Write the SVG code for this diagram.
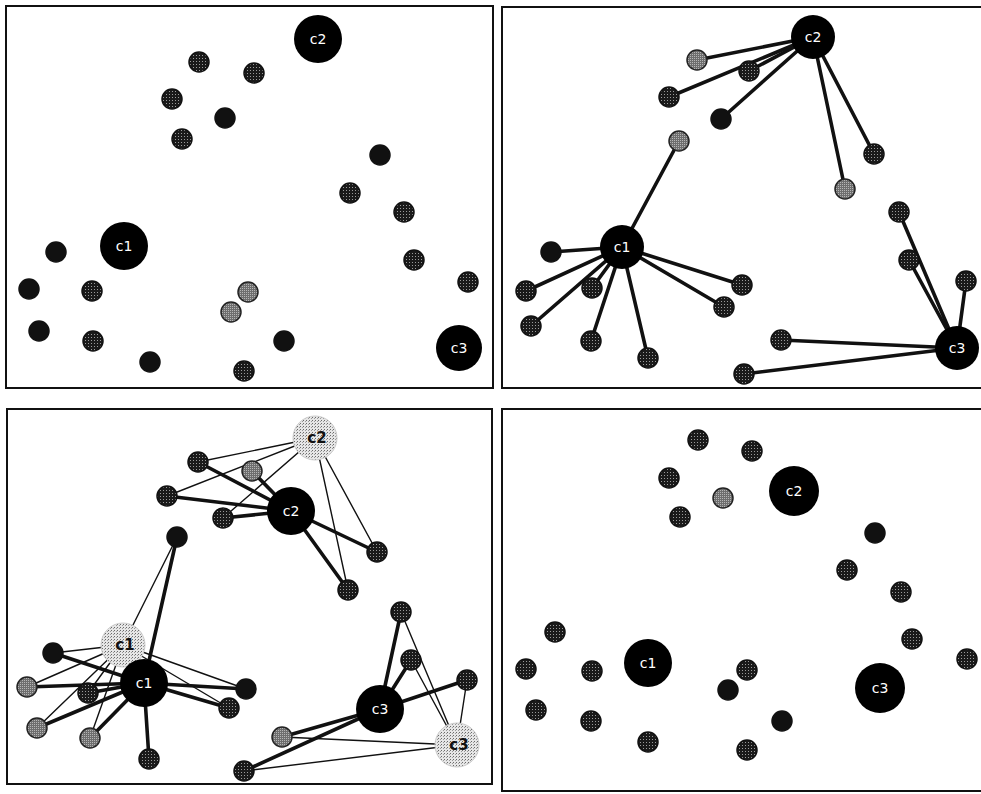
<svg xmlns="http://www.w3.org/2000/svg" width="981" height="794" viewBox="0 0 981 794">
<defs>
<pattern id="dots" width="3" height="3" patternUnits="userSpaceOnUse">
<rect width="3" height="3" fill="#1a1a1a"/>
<rect x="1" y="1" width="1" height="1" fill="#9a9a9a"/>
</pattern>
<pattern id="grey" width="2" height="2" patternUnits="userSpaceOnUse">
<rect width="2" height="2" fill="#6e6e6e"/>
<rect width="1" height="1" fill="#b5b5b5"/>
</pattern>
<pattern id="hatch" width="3" height="3" patternUnits="userSpaceOnUse">
<rect width="3" height="3" fill="#e6e6e6"/>
<rect x="0" y="0" width="1" height="1" fill="#6a6a6a"/>
<rect x="2" y="1" width="1" height="1" fill="#9a9a9a"/>
</pattern>
</defs>
<style>
.frame{fill:#fff;stroke:#111;stroke-width:2}
.d{fill:url(#dots);stroke:#111;stroke-width:1.5}
.g{fill:url(#grey);stroke:#222;stroke-width:1.5}
.b{fill:#111;stroke:#111;stroke-width:1.5}
.cen{fill:#000}
.old{fill:url(#hatch);stroke:#ccc;stroke-width:1}
.lbl{font-family:"DejaVu Sans","Liberation Sans",sans-serif;font-size:14px;fill:#fff;text-anchor:middle;dominant-baseline:central}
.olbl{font-family:"DejaVu Sans","Liberation Sans",sans-serif;font-size:15px;font-weight:bold;fill:#111;text-anchor:middle;dominant-baseline:central}
.thick{stroke:#111;stroke-width:3.6;fill:none;stroke-linecap:round}
.thin{stroke:#111;stroke-width:1.4;fill:none;stroke-linecap:round}
</style>
<rect width="981" height="794" fill="#fff"/>
<g id="frames">
<rect class="frame" x="6" y="6" width="487" height="382"/>
<rect class="frame" x="502" y="7" width="490" height="381"/>
<rect class="frame" x="7" y="409" width="485" height="375"/>
<rect class="frame" x="502" y="409" width="490" height="382"/>
</g>
<g id="connectors">
<g class="thick">
<line x1="813" y1="37" x2="697" y2="60"/>
<line x1="813" y1="37" x2="749" y2="71"/>
<line x1="813" y1="37" x2="669" y2="97"/>
<line x1="813" y1="37" x2="721" y2="119"/>
<line x1="813" y1="37" x2="874" y2="154"/>
<line x1="813" y1="37" x2="845" y2="189"/>
<line x1="622" y1="247" x2="679" y2="141"/>
<line x1="622" y1="247" x2="551" y2="252"/>
<line x1="622" y1="247" x2="526" y2="291"/>
<line x1="622" y1="247" x2="592" y2="288"/>
<line x1="622" y1="247" x2="531" y2="326"/>
<line x1="622" y1="247" x2="591" y2="341"/>
<line x1="622" y1="247" x2="648" y2="358"/>
<line x1="622" y1="247" x2="742" y2="285"/>
<line x1="622" y1="247" x2="724" y2="307"/>
<line x1="957" y1="348" x2="899" y2="212"/>
<line x1="957" y1="348" x2="909" y2="260"/>
<line x1="957" y1="348" x2="966" y2="281"/>
<line x1="957" y1="348" x2="781" y2="340"/>
<line x1="957" y1="348" x2="744" y2="374"/>
</g>
<g class="thin">
<line x1="315" y1="438" x2="198" y2="462"/>
<line x1="315" y1="438" x2="167" y2="496"/>
<line x1="315" y1="438" x2="223" y2="518"/>
<line x1="315" y1="438" x2="377" y2="552"/>
<line x1="315" y1="438" x2="348" y2="590"/>
<line x1="123" y1="645" x2="177" y2="537"/>
<line x1="123" y1="645" x2="53" y2="653"/>
<line x1="123" y1="645" x2="27" y2="687"/>
<line x1="123" y1="645" x2="88" y2="693"/>
<line x1="123" y1="645" x2="246" y2="689"/>
<line x1="123" y1="645" x2="229" y2="708"/>
<line x1="123" y1="645" x2="37" y2="728"/>
<line x1="123" y1="645" x2="90" y2="738"/>
<line x1="457" y1="745" x2="401" y2="612"/>
<line x1="457" y1="745" x2="411" y2="660"/>
<line x1="457" y1="745" x2="467" y2="680"/>
<line x1="457" y1="745" x2="282" y2="737"/>
<line x1="457" y1="745" x2="244" y2="771"/>
</g>
<g class="thick">
<line x1="291" y1="511" x2="198" y2="462"/>
<line x1="291" y1="511" x2="252" y2="471"/>
<line x1="291" y1="511" x2="167" y2="496"/>
<line x1="291" y1="511" x2="223" y2="518"/>
<line x1="291" y1="511" x2="377" y2="552"/>
<line x1="291" y1="511" x2="348" y2="590"/>
<line x1="144" y1="683" x2="177" y2="537"/>
<line x1="144" y1="683" x2="53" y2="653"/>
<line x1="144" y1="683" x2="27" y2="687"/>
<line x1="144" y1="683" x2="88" y2="693"/>
<line x1="144" y1="683" x2="246" y2="689"/>
<line x1="144" y1="683" x2="229" y2="708"/>
<line x1="144" y1="683" x2="37" y2="728"/>
<line x1="144" y1="683" x2="90" y2="738"/>
<line x1="144" y1="683" x2="149" y2="759"/>
<line x1="380" y1="709" x2="401" y2="612"/>
<line x1="380" y1="709" x2="411" y2="660"/>
<line x1="380" y1="709" x2="467" y2="680"/>
<line x1="380" y1="709" x2="282" y2="737"/>
<line x1="380" y1="709" x2="244" y2="771"/>
</g>
</g>
<g id="p1-c1"><circle class="cen" cx="124" cy="246" r="24"/><text class="lbl" x="124" y="246">c1</text></g>
<g id="p1-c2"><circle class="cen" cx="318" cy="39" r="24"/><text class="lbl" x="318" y="39">c2</text></g>
<g id="p1-c3"><circle class="cen" cx="459" cy="348" r="23"/><text class="lbl" x="459" y="348">c3</text></g>
<g id="p1-n1"><circle class="d" cx="199" cy="62" r="10"/></g>
<g id="p1-n2"><circle class="d" cx="254" cy="73" r="10"/></g>
<g id="p1-n3"><circle class="d" cx="172" cy="99" r="10"/></g>
<g id="p1-n4"><circle class="b" cx="225" cy="118" r="10"/></g>
<g id="p1-n5"><circle class="d" cx="182" cy="139" r="10"/></g>
<g id="p1-n6"><circle class="b" cx="380" cy="155" r="10"/></g>
<g id="p1-n7"><circle class="d" cx="350" cy="193" r="10"/></g>
<g id="p1-n8"><circle class="d" cx="404" cy="212" r="10"/></g>
<g id="p1-n9"><circle class="d" cx="414" cy="260" r="10"/></g>
<g id="p1-n10"><circle class="d" cx="468" cy="282" r="10"/></g>
<g id="p1-n11"><circle class="b" cx="56" cy="252" r="10"/></g>
<g id="p1-n12"><circle class="b" cx="29" cy="289" r="10"/></g>
<g id="p1-n13"><circle class="d" cx="92" cy="291" r="10"/></g>
<g id="p1-n14"><circle class="g" cx="248" cy="292" r="10"/></g>
<g id="p1-n15"><circle class="g" cx="231" cy="312" r="10"/></g>
<g id="p1-n16"><circle class="b" cx="39" cy="331" r="10"/></g>
<g id="p1-n17"><circle class="d" cx="93" cy="341" r="10"/></g>
<g id="p1-n18"><circle class="b" cx="284" cy="341" r="10"/></g>
<g id="p1-n19"><circle class="b" cx="150" cy="362" r="10"/></g>
<g id="p1-n20"><circle class="d" cx="244" cy="371" r="10"/></g>
<g id="p2-c1"><circle class="cen" cx="622" cy="247" r="22"/><text class="lbl" x="622" y="247">c1</text></g>
<g id="p2-c2"><circle class="cen" cx="813" cy="37" r="22"/><text class="lbl" x="813" y="37">c2</text></g>
<g id="p2-c3"><circle class="cen" cx="957" cy="348" r="22"/><text class="lbl" x="957" y="348">c3</text></g>
<g id="p2-n1"><circle class="g" cx="697" cy="60" r="10"/></g>
<g id="p2-n2"><circle class="d" cx="749" cy="71" r="10"/></g>
<g id="p2-n3"><circle class="d" cx="669" cy="97" r="10"/></g>
<g id="p2-n4"><circle class="b" cx="721" cy="119" r="10"/></g>
<g id="p2-n5"><circle class="g" cx="679" cy="141" r="10"/></g>
<g id="p2-n6"><circle class="d" cx="874" cy="154" r="10"/></g>
<g id="p2-n7"><circle class="g" cx="845" cy="189" r="10"/></g>
<g id="p2-n8"><circle class="d" cx="899" cy="212" r="10"/></g>
<g id="p2-n9"><circle class="d" cx="909" cy="260" r="10"/></g>
<g id="p2-n10"><circle class="d" cx="966" cy="281" r="10"/></g>
<g id="p2-n11"><circle class="b" cx="551" cy="252" r="10"/></g>
<g id="p2-n12"><circle class="d" cx="526" cy="291" r="10"/></g>
<g id="p2-n13"><circle class="d" cx="592" cy="288" r="10"/></g>
<g id="p2-n14"><circle class="d" cx="742" cy="285" r="10"/></g>
<g id="p2-n15"><circle class="d" cx="724" cy="307" r="10"/></g>
<g id="p2-n16"><circle class="d" cx="531" cy="326" r="10"/></g>
<g id="p2-n17"><circle class="d" cx="591" cy="341" r="10"/></g>
<g id="p2-n18"><circle class="d" cx="648" cy="358" r="10"/></g>
<g id="p2-n19"><circle class="d" cx="781" cy="340" r="10"/></g>
<g id="p2-n20"><circle class="d" cx="744" cy="374" r="10"/></g>
<g id="p3-c1-old"><circle class="old" cx="123" cy="645" r="22"/><text class="olbl" x="125" y="645">c1</text></g>
<g id="p3-c2-old"><circle class="old" cx="315" cy="438" r="22"/><text class="olbl" x="317" y="438">c2</text></g>
<g id="p3-c3-old"><circle class="old" cx="457" cy="745" r="22"/><text class="olbl" x="459" y="745">c3</text></g>
<g id="p3-c1"><circle class="cen" cx="144" cy="683" r="24"/><text class="lbl" x="144" y="683">c1</text></g>
<g id="p3-c2"><circle class="cen" cx="291" cy="511" r="24"/><text class="lbl" x="291" y="511">c2</text></g>
<g id="p3-c3"><circle class="cen" cx="380" cy="709" r="24"/><text class="lbl" x="380" y="709">c3</text></g>
<g id="p3-n1"><circle class="d" cx="198" cy="462" r="10"/></g>
<g id="p3-n2"><circle class="g" cx="252" cy="471" r="10"/></g>
<g id="p3-n3"><circle class="d" cx="167" cy="496" r="10"/></g>
<g id="p3-n4"><circle class="d" cx="223" cy="518" r="10"/></g>
<g id="p3-n5"><circle class="b" cx="177" cy="537" r="10"/></g>
<g id="p3-n6"><circle class="d" cx="377" cy="552" r="10"/></g>
<g id="p3-n7"><circle class="d" cx="348" cy="590" r="10"/></g>
<g id="p3-n8"><circle class="d" cx="401" cy="612" r="10"/></g>
<g id="p3-n9"><circle class="d" cx="411" cy="660" r="10"/></g>
<g id="p3-n10"><circle class="d" cx="467" cy="680" r="10"/></g>
<g id="p3-n11"><circle class="b" cx="53" cy="653" r="10"/></g>
<g id="p3-n12"><circle class="g" cx="27" cy="687" r="10"/></g>
<g id="p3-n13"><circle class="d" cx="88" cy="693" r="10"/></g>
<g id="p3-n14"><circle class="b" cx="246" cy="689" r="10"/></g>
<g id="p3-n15"><circle class="d" cx="229" cy="708" r="10"/></g>
<g id="p3-n16"><circle class="g" cx="37" cy="728" r="10"/></g>
<g id="p3-n17"><circle class="g" cx="90" cy="738" r="10"/></g>
<g id="p3-n18"><circle class="g" cx="282" cy="737" r="10"/></g>
<g id="p3-n19"><circle class="d" cx="149" cy="759" r="10"/></g>
<g id="p3-n20"><circle class="d" cx="244" cy="771" r="10"/></g>
<g id="p4-c1"><circle class="cen" cx="648" cy="663" r="24"/><text class="lbl" x="648" y="663">c1</text></g>
<g id="p4-c2"><circle class="cen" cx="794" cy="491" r="25"/><text class="lbl" x="794" y="491">c2</text></g>
<g id="p4-c3"><circle class="cen" cx="880" cy="688" r="25"/><text class="lbl" x="880" y="688">c3</text></g>
<g id="p4-n1"><circle class="d" cx="698" cy="440" r="10"/></g>
<g id="p4-n2"><circle class="d" cx="752" cy="451" r="10"/></g>
<g id="p4-n3"><circle class="d" cx="669" cy="478" r="10"/></g>
<g id="p4-n4"><circle class="g" cx="723" cy="498" r="10"/></g>
<g id="p4-n5"><circle class="d" cx="680" cy="517" r="10"/></g>
<g id="p4-n6"><circle class="b" cx="875" cy="533" r="10"/></g>
<g id="p4-n7"><circle class="d" cx="847" cy="570" r="10"/></g>
<g id="p4-n8"><circle class="d" cx="901" cy="592" r="10"/></g>
<g id="p4-n9"><circle class="d" cx="912" cy="639" r="10"/></g>
<g id="p4-n10"><circle class="d" cx="967" cy="659" r="10"/></g>
<g id="p4-n11"><circle class="d" cx="555" cy="632" r="10"/></g>
<g id="p4-n12"><circle class="d" cx="526" cy="669" r="10"/></g>
<g id="p4-n13"><circle class="d" cx="592" cy="671" r="10"/></g>
<g id="p4-n14"><circle class="d" cx="747" cy="670" r="10"/></g>
<g id="p4-n15"><circle class="b" cx="728" cy="690" r="10"/></g>
<g id="p4-n16"><circle class="d" cx="536" cy="710" r="10"/></g>
<g id="p4-n17"><circle class="d" cx="591" cy="721" r="10"/></g>
<g id="p4-n18"><circle class="b" cx="782" cy="721" r="10"/></g>
<g id="p4-n19"><circle class="d" cx="648" cy="742" r="10"/></g>
<g id="p4-n20"><circle class="d" cx="747" cy="750" r="10"/></g>
</svg>
